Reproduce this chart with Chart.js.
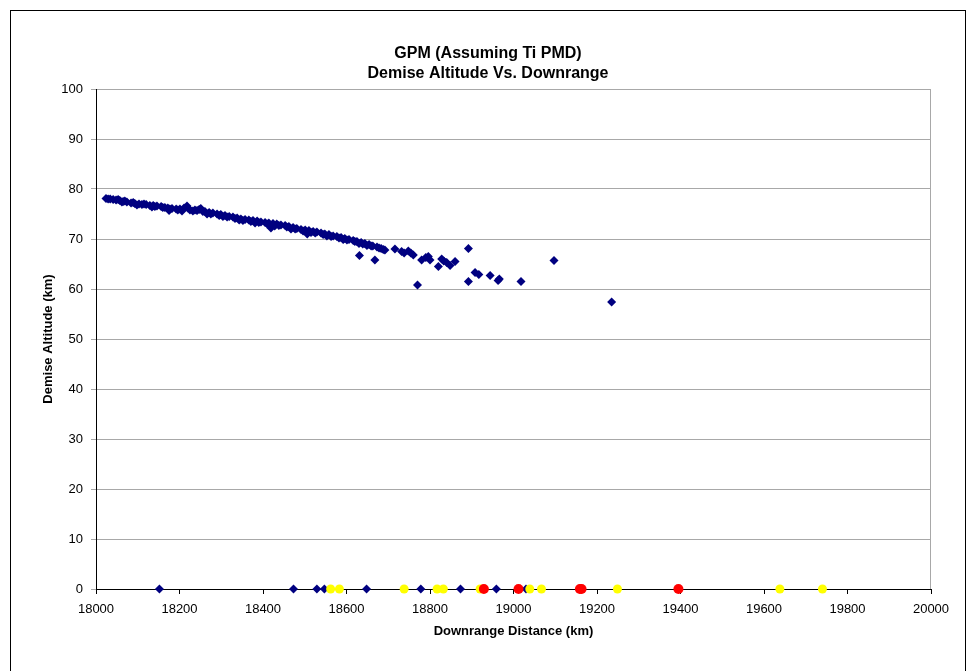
<!DOCTYPE html>
<html>
<head>
<meta charset="utf-8">
<title>GPM Demise Altitude Vs. Downrange</title>
<script src="https://cdn.jsdelivr.net/npm/chart.js@4/dist/chart.umd.min.js"></script>
<style>
  html, body { margin: 0; padding: 0; background: #fff; }
</style>
</head>
<body>
<canvas id="myChart" width="969" height="671"></canvas>
<script>
// chart text
const titleLines = ["GPM (Assuming Ti PMD)", "Demise Altitude Vs. Downrange"];
const xTitle = "Downrange Distance (km)";
const yTitle = "Demise Altitude (km)";

// demise points (downrange km / altitude km)
const demiseDist = [
    18024, 18029, 18034, 18041, 18048, 18053, 18057, 18065, 18069, 18074,
    18084, 18089, 18093, 18103, 18110, 18115, 18120, 18129, 18137, 18141,
    18146, 18156, 18160, 18165, 18172, 18177, 18182, 18192, 18196, 18201,
    18211, 18218, 18220, 18225, 18232, 18237, 18242, 18247, 18251, 18256,
    18261, 18271, 18275, 18280, 18290, 18295, 18299, 18309, 18314, 18319,
    18328, 18333, 18338, 18347, 18352, 18357, 18366, 18371, 18376, 18386,
    18390, 18395, 18405, 18410, 18414, 18419, 18424, 18433, 18438, 18443,
    18453, 18457, 18462, 18472, 18477, 18481, 18491, 18496, 18501, 18506,
    18510, 18520, 18525, 18529, 18539, 18544, 18548, 18558, 18563, 18568,
    18577, 18582, 18587, 18596, 18601, 18606, 18616, 18620, 18625, 18635,
    18639, 18644, 18654, 18659, 18663, 18673, 18678, 18683, 18688, 18692,
    18631, 18668, 18716, 18732, 18738, 18748, 18754, 18760, 18770, 18780,
    18790, 18796, 18800, 18820, 18828, 18833, 18840, 18848, 18860, 18892,
    18892, 18908, 18917, 18944, 18963, 18966, 19018, 19097, 19235,
    18062, 18098, 18134, 18175, 18206, 18266, 18304, 18343, 18381, 18428,
    18467, 18515, 18553, 18592, 18630, 18649
];
const demiseAlt = [
    78.1, 78.0, 78.0, 77.9, 77.8, 77.9, 77.7, 77.5, 77.6, 77.4,
    77.2, 77.3, 77.1, 77.0, 76.9, 77.0, 76.9, 76.7, 76.7, 76.5,
    76.6, 76.5, 76.3, 76.3, 76.2, 76.0, 76.1, 76.0, 75.8, 76.0,
    76.2, 76.6, 76.2, 75.8, 75.6, 75.8, 75.7, 75.9, 76.1, 75.5,
    75.5, 75.3, 75.0, 75.2, 75.0, 74.7, 74.9, 74.7, 74.4, 74.5,
    74.4, 74.1, 74.2, 74.0, 73.7, 73.9, 73.8, 73.5, 73.7, 73.6,
    73.3, 73.4, 73.3, 73.0, 73.2, 72.2, 73.1, 73.0, 72.7, 72.8,
    72.7, 72.4, 72.5, 72.3, 72.0, 72.1, 71.9, 71.6, 71.8, 71.0,
    71.7, 71.5, 71.2, 71.4, 71.2, 70.9, 71.0, 70.9, 70.5, 70.6,
    70.5, 70.2, 70.3, 70.1, 69.8, 69.9, 69.7, 69.5, 69.5, 69.3,
    69.0, 69.1, 68.9, 68.6, 68.6, 68.4, 68.2, 68.1, 67.9, 67.8,
    66.7, 65.8, 68.0, 67.5, 67.2, 67.6, 67.2, 66.8, 60.8, 65.8,
    66.3, 66.5, 65.8, 64.5, 66.0, 65.6, 65.3, 64.7, 65.5, 68.1,
    61.5, 63.3, 62.9, 62.7, 61.7, 62.0, 61.5, 65.7, 57.4,
    77.4, 76.8, 76.4, 75.7, 75.6, 75.0, 74.5, 73.8, 73.2, 72.6,
    72.0, 71.3, 70.6, 69.9, 69.1, 68.7
];

// objects reaching the ground (altitude 0)
const groundBlue = [18152, 18473, 18529, 18547, 18648, 18778, 18873, 18959, 19030];
const groundYellow = [18562, 18583, 18738, 18817, 18832, 18920, 19039, 19067, 19249, 19638, 19740];
const groundRed = [18929, 19012, 19159, 19163, 19395];

const navy = "#000080";
const gridGray = "#a8a8a8";
const fontFamily = '"Liberation Sans", Arial, sans-serif';

let toPoints = (xs, ys) => xs.map((x, i) => ({ x: x, y: ys ? ys[i] : 0 }));

// white background, outer frame, title, plot-area border
const frame = {
    id: "frame",
    beforeDraw(chart) {
        const ctx = chart.ctx;
        ctx.save();
        ctx.fillStyle = "#fff";
        ctx.fillRect(0, 0, chart.width, chart.height);
        ctx.strokeStyle = "#000";
        ctx.lineWidth = 1;
        ctx.strokeRect(10.5, 10.5, 955, 700);
        ctx.fillStyle = "#000";
        ctx.font = "bold 16px " + fontFamily;
        ctx.textAlign = "center";
        ctx.textBaseline = "middle";
        titleLines.forEach((t, i) => ctx.fillText(t, 488, 54 + i * 20));
        ctx.restore();
    },
    beforeDatasetsDraw(chart) {
        const ctx = chart.ctx;
        const a = chart.chartArea;
        ctx.save();
        ctx.strokeStyle = gridGray;
        ctx.lineWidth = 1;
        ctx.beginPath();
        ctx.moveTo(Math.round(a.right) - 0.5, a.top);
        ctx.lineTo(Math.round(a.right) - 0.5, a.bottom);
        ctx.stroke();
        ctx.restore();
    }
};

const config = {
    type: "scatter",
    data: {
        datasets: [
            {
                data: toPoints(groundRed),
                pointStyle: "circle",
                pointRadius: 5,
                backgroundColor: "#ff0000",
                borderColor: "#ff0000",
                borderWidth: 0,
                clip: false
            },
            {
                data: toPoints(groundYellow),
                pointStyle: "circle",
                pointRadius: 4.5,
                backgroundColor: "#ffff00",
                borderColor: "#ffff00",
                borderWidth: 0,
                clip: false
            },
            {
                data: toPoints(groundBlue),
                pointStyle: "rectRot",
                pointRadius: 4.5,
                backgroundColor: navy,
                borderColor: navy,
                borderWidth: 0,
                clip: false
            },
            {
                data: toPoints(demiseDist, demiseAlt),
                pointStyle: "rectRot",
                pointRadius: 4.5,
                backgroundColor: navy,
                borderColor: navy,
                borderWidth: 0,
                clip: false
            }
        ]
    },
    options: {
        responsive: false,
        animation: false,
        events: [],
        layout: {
            padding: { left: 0, right: 38, top: 89, bottom: 0 }
        },
        plugins: {
            legend: { display: false },
            title: { display: false },
            tooltip: { enabled: false }
        },
        scales: {
            x: {
                type: "linear",
                min: 18000,
                max: 20000,
                afterFit: (s) => { s.height = 82; },
                grid: {
                    drawOnChartArea: false,
                    drawTicks: true,
                    tickLength: 5,
                    tickColor: "#000"
                },
                border: { color: "#000", width: 1 },
                ticks: {
                    stepSize: 200,
                    padding: 8,
                    color: "#000",
                    maxRotation: 0,
                    font: { family: fontFamily, size: 13 },
                    callback: (v) => String(v)
                },
                title: {
                    display: true,
                    text: xTitle,
                    color: "#000",
                    font: { family: fontFamily, size: 13, weight: "bold" },
                    padding: { top: 0, bottom: 32 }
                }
            },
            y: {
                type: "linear",
                min: 0,
                max: 100,
                afterFit: (s) => { s.width = 96; },
                grid: {
                    color: (c) => (c.tick && c.tick.value === 0 ? "#000" : gridGray),
                    tickLength: 5,
                    tickColor: gridGray
                },
                border: { color: "#000", width: 1 },
                ticks: {
                    stepSize: 10,
                    padding: 8,
                    color: "#000",
                    font: { family: fontFamily, size: 13 }
                },
                title: {
                    display: true,
                    text: yTitle,
                    color: "#000",
                    font: { family: fontFamily, size: 13, weight: "bold" },
                    padding: { top: 41, bottom: 0 }
                }
            }
        }
    },
    plugins: [frame]
};

const myChart = new Chart(document.getElementById("myChart"), config);
</script>
</body>
</html>
